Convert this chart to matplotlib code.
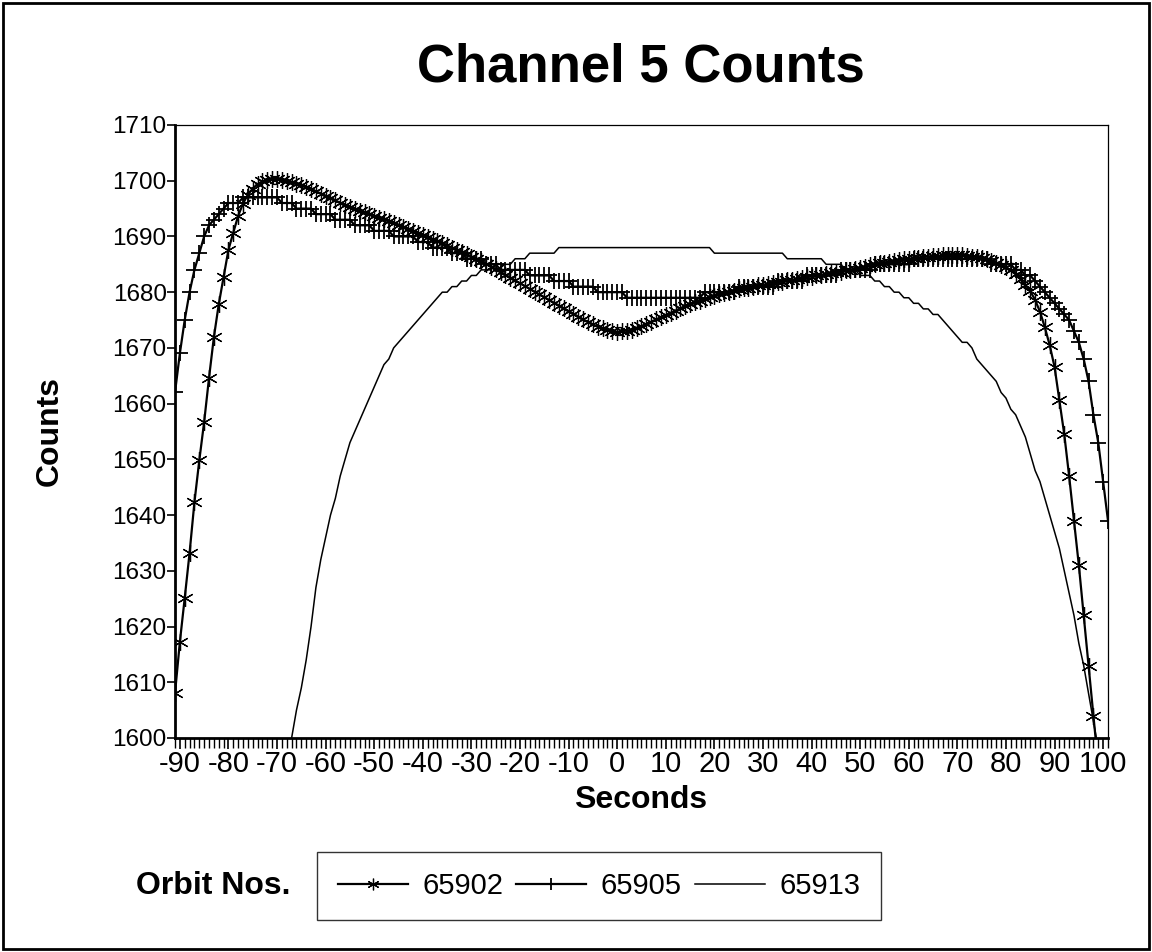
import numpy as np
import matplotlib
matplotlib.use("Agg")
import matplotlib.pyplot as plt
from matplotlib.patches import Rectangle

plt.rcParams['font.family'] = ['Liberation Sans', 'DejaVu Sans']
plt.rcParams['axes.unicode_minus'] = False

# Orbit 65902 (star), seconds -91..99
sec_902 = np.arange(-91, 100)
cnt_902 = [
    1608.0, 1617.2, 1625.1, 1633.2, 1642.3, 1649.8, 1656.7, 1664.6, 1671.9, 1677.8,
    1682.7, 1687.6, 1690.7, 1693.7, 1695.9, 1697.5, 1698.6, 1699.4, 1699.9, 1700.2,
    1700.3, 1700.3, 1700.2, 1700.0, 1699.8, 1699.5, 1699.2, 1698.9, 1698.5, 1698.1,
    1697.7, 1697.3, 1696.9, 1696.5, 1696.0, 1695.6, 1695.2, 1694.9, 1694.6, 1694.3,
    1694.0, 1693.7, 1693.4, 1693.1, 1692.8, 1692.4, 1692.1, 1691.7, 1691.4, 1691.0,
    1690.7, 1690.3, 1689.9, 1689.5, 1689.1, 1688.8, 1688.4, 1688.0, 1687.6, 1687.2,
    1686.8, 1686.4, 1686.0, 1685.6, 1685.1, 1684.6, 1684.1, 1683.6, 1683.1, 1682.6,
    1682.1, 1681.6, 1681.1, 1680.6, 1680.1, 1679.6, 1679.1, 1678.6, 1678.1, 1677.6,
    1677.1, 1676.6, 1676.1, 1675.6, 1675.1, 1674.6, 1674.2, 1673.8, 1673.5, 1673.2,
    1673.0, 1672.9, 1673.0, 1673.1, 1673.3, 1673.6, 1673.9, 1674.3, 1674.7, 1675.1,
    1675.5, 1675.9, 1676.3, 1676.7, 1677.1, 1677.5, 1677.9, 1678.2, 1678.5, 1678.8,
    1679.1, 1679.4, 1679.7, 1679.9, 1680.1, 1680.3, 1680.5, 1680.7, 1680.8, 1681.0,
    1681.2, 1681.3, 1681.5, 1681.6, 1681.8, 1681.9, 1682.1, 1682.2, 1682.4, 1682.5,
    1682.7, 1682.8, 1683.0, 1683.1, 1683.3, 1683.4, 1683.6, 1683.7, 1683.9, 1684.0,
    1684.2, 1684.4, 1684.6, 1684.8, 1685.0, 1685.2, 1685.3, 1685.5, 1685.6, 1685.8,
    1685.9, 1686.0, 1686.1, 1686.2, 1686.3, 1686.4, 1686.5, 1686.5, 1686.6, 1686.6,
    1686.6, 1686.6, 1686.6, 1686.5, 1686.4, 1686.3, 1686.1, 1685.9, 1685.6, 1685.3,
    1684.9, 1684.5, 1683.9, 1683.2, 1682.3, 1681.3, 1680.2, 1678.6, 1676.5, 1673.7,
    1670.5, 1666.6, 1660.6, 1654.5, 1647.0, 1639.0, 1631.0, 1622.0, 1613.0, 1604.0, 1595.0,
]

# Orbit 65905 (plus), seconds -91..101
sec_905 = np.arange(-91, 102)
cnt_905 = [
    1662, 1669, 1675, 1680, 1684, 1687, 1690, 1692, 1693, 1694,
    1695, 1696, 1696, 1696, 1697, 1697, 1697, 1697, 1697, 1697,
    1697, 1697, 1696, 1696, 1696, 1695, 1695, 1695, 1695, 1694,
    1694, 1694, 1694, 1693, 1693, 1693, 1693, 1692, 1692, 1692,
    1692, 1691, 1691, 1691, 1691, 1690, 1690, 1690, 1690, 1690,
    1689, 1689, 1689, 1688, 1688, 1688, 1688, 1687, 1687, 1687,
    1686, 1686, 1686, 1686, 1685, 1685, 1685, 1684, 1684, 1684,
    1684, 1684, 1684, 1683, 1683, 1683, 1683, 1683, 1682, 1682,
    1682, 1682, 1681, 1681, 1681, 1681, 1681, 1680, 1680, 1680,
    1680, 1680, 1680, 1679, 1679, 1679, 1679, 1679, 1679, 1679,
    1679, 1679, 1679, 1679, 1679, 1679, 1679, 1679, 1679, 1680,
    1680, 1680, 1680, 1680, 1680, 1680, 1681, 1681, 1681, 1681,
    1681, 1681, 1681, 1681, 1682, 1682, 1682, 1682, 1682, 1682,
    1683, 1683, 1683, 1683, 1683, 1683, 1683, 1684, 1684, 1684,
    1684, 1684, 1684, 1684, 1685, 1685, 1685, 1685, 1685, 1685,
    1685, 1685, 1686, 1686, 1686, 1686, 1686, 1686, 1686, 1686,
    1686, 1686, 1686, 1686, 1686, 1686, 1686, 1686, 1685, 1685,
    1685, 1685, 1685, 1684, 1684, 1683, 1683, 1682, 1681, 1680,
    1679, 1678, 1677, 1676, 1675, 1673, 1671, 1668, 1664, 1658, 1653, 1646, 1639,
]

# Orbit 65913 (plain line), seconds -68..99
sec_913 = np.arange(-68, 100)
cnt_913 = [
    1596, 1600, 1605, 1609, 1614, 1620, 1627, 1632, 1636, 1640,
    1643, 1647, 1650, 1653, 1655, 1657, 1659, 1661, 1663, 1665,
    1667, 1668, 1670, 1671, 1672, 1673, 1674, 1675, 1676, 1677,
    1678, 1679, 1680, 1680, 1681, 1681, 1682, 1682, 1683, 1683,
    1684, 1684, 1684, 1685, 1685, 1685, 1685, 1686, 1686, 1686,
    1687, 1687, 1687, 1687, 1687, 1687, 1688, 1688, 1688, 1688,
    1688, 1688, 1688, 1688, 1688, 1688, 1688, 1688, 1688, 1688,
    1688, 1688, 1688, 1688, 1688, 1688, 1688, 1688, 1688, 1688,
    1688, 1688, 1688, 1688, 1688, 1688, 1688, 1688, 1687, 1687,
    1687, 1687, 1687, 1687, 1687, 1687, 1687, 1687, 1687, 1687,
    1687, 1687, 1687, 1686, 1686, 1686, 1686, 1686, 1686, 1686,
    1686, 1685, 1685, 1685, 1685, 1684, 1684, 1684, 1683, 1683,
    1683, 1682, 1682, 1681, 1681, 1680, 1680, 1679, 1679, 1678,
    1678, 1677, 1677, 1676, 1676, 1675, 1674, 1673, 1672, 1671,
    1671, 1670, 1668, 1667, 1666, 1665, 1664, 1662, 1661, 1659,
    1658, 1656, 1654, 1651, 1648, 1646, 1643, 1640, 1637, 1634,
    1630, 1626, 1622, 1617, 1613, 1608, 1603, 1598,
]

xtick_vals = np.arange(-90, 101, 10)
xtick_labels = [str(v) for v in xtick_vals]
ytick_vals = np.arange(1600, 1711, 10)

fig = plt.figure(figsize=(11.52, 9.52), dpi=100)
fig.patches.append(Rectangle((0.003, 0.003), 0.994, 0.994, transform=fig.transFigure,
                             fill=False, edgecolor='black', linewidth=2))

ax = fig.add_axes([0.1519, 0.2248, 0.8099, 0.6439])

ax.plot(sec_913, cnt_913, color='black', linewidth=1.1, label='65913', zorder=2)
ax.plot(sec_905, cnt_905, color='black', linewidth=1.6, marker='+',
        markersize=12, markeredgewidth=1.3, label='65905', zorder=3)
ax.plot(sec_902, cnt_902, color='black', linewidth=1.6, marker=(6, 2, 0),
        markersize=12, markeredgewidth=0.9, label='65902', zorder=4)

ax.set_xlim(-91, 101)
ax.set_ylim(1600, 1710)
ax.set_xticks(xtick_vals)
ax.set_xticklabels(xtick_labels)
ax.set_xticks(np.arange(-91, 102), minor=True)
ax.set_yticks(ytick_vals)

ax.tick_params(axis='both', which='major', direction='out', width=1.2, color='black')
ax.tick_params(axis='x', which='major', length=8, pad=1, labelsize=21)
ax.tick_params(axis='x', which='minor', length=7, width=1.0)
ax.tick_params(axis='y', which='major', length=6, pad=0, labelsize=17.5)

for side in ['left', 'bottom']:
    ax.spines[side].set_linewidth(2.0)
for side in ['top', 'right']:
    ax.spines[side].set_linewidth(0.9)

fig.text(641 / 1152, 1 - 800 / 952, 'Seconds', fontsize=23, fontweight='bold',
         ha='center', va='center')
fig.text(50 / 1152, 1 - 431 / 952, 'Counts', fontsize=23, fontweight='bold',
         ha='center', va='center', rotation=90)

fig.text(0.556, 0.9286, 'Channel 5 Counts', fontsize=38, fontweight='bold',
         ha='center', va='center')

handles, labels = ax.get_legend_handles_labels()
order = [2, 1, 0]
leg = fig.legend([handles[i] for i in order], [labels[i] for i in order],
                 ncol=3, loc='center', bbox_to_anchor=(599 / 1152, 1 - 886 / 952),
                 fontsize=21, frameon=True, fancybox=False, edgecolor='black',
                 handlelength=2.4, handletextpad=0.5, columnspacing=0.45,
                 borderpad=0.7, borderaxespad=0, markerscale=0.7)
leg.get_frame().set_linewidth(1.0)

fig.text(290 / 1152, 1 - 886 / 952, 'Orbit Nos.', fontsize=23, fontweight='bold',
         ha='right', va='center')

fig.savefig('out.png', dpi=100)
